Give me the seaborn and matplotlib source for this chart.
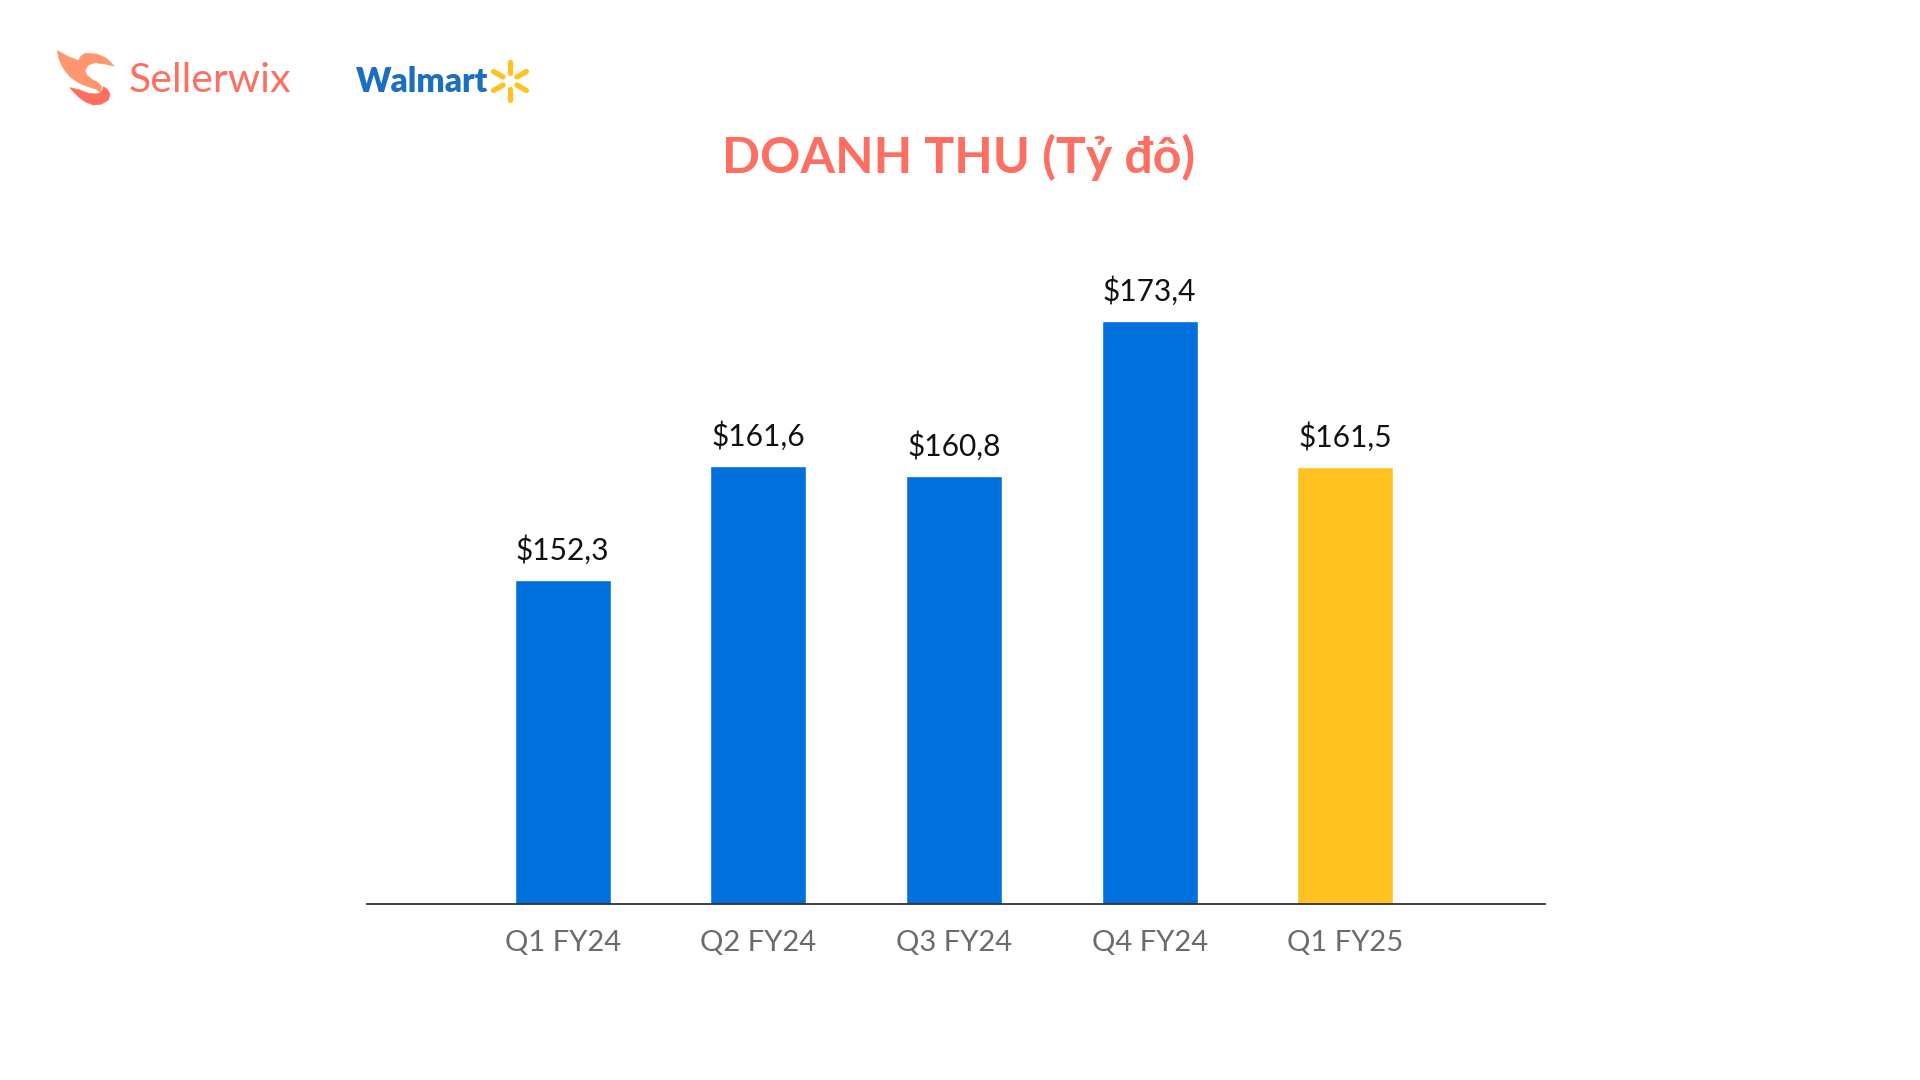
import math
import matplotlib
matplotlib.use("Agg")
import matplotlib.pyplot as plt
import seaborn as sns
import pandas as pd
from matplotlib.lines import Line2D
from matplotlib.patches import Polygon

# ---- data ----
categories = ["Q1 FY24", "Q2 FY24", "Q3 FY24", "Q4 FY24", "Q1 FY25"]
revenue = [152.3, 161.6, 160.8, 173.4, 161.5]
bar_colors = ["#0071DC", "#0071DC", "#0071DC", "#0071DC", "#FFC220"]
title_text = "DOANH THU (Tỷ đô)"

sns.set_theme(style="white")
plt.rcParams["font.family"] = ["Lato", "DejaVu Sans"]

W, H = 1920, 1080
fig = plt.figure(figsize=(W / 100, H / 100), dpi=100)
fig.patch.set_facecolor("white")

# axes placed in pixel geometry
left, right, bottom_px, top_px = 367, 1545, 904, 200
ax = fig.add_axes([left / W, 1 - bottom_px / H, (right - left) / W, (bottom_px - top_px) / H])

df = pd.DataFrame({"quarter": categories, "revenue": revenue})
sns.barplot(data=df, x="quarter", y="revenue", hue="quarter", palette=bar_colors,
            width=0.49, legend=False, ax=ax, saturation=1)

ax.set_xlim(-1.0, 5.02)
ax.set_ylim(125.9, 183.3)
ax.set_xlabel("")
ax.set_ylabel("")
ax.set_yticks([])
for s in ["top", "right", "left"]:
    ax.spines[s].set_visible(False)
ax.spines["bottom"].set_color("#333333")
ax.spines["bottom"].set_linewidth(1.3)
ax.tick_params(axis="x", length=0, pad=19, labelsize=21, labelcolor="#6b6b6b")
ax.set_facecolor("white")

for i, v in enumerate(revenue):
    ax.annotate(f"${v:.1f}".replace(".", ","), xy=(i, v), xytext=(0, 11),
                textcoords="offset points", ha="center", va="bottom",
                fontsize=21.5, color="#111111")

# title
fig.text(959 / W, 1 - 157 / H, title_text, ha="center", va="center",
         fontsize=36, fontweight="bold", color="#FF6F61",
         family=["Lato", "DejaVu Sans"])

# ---- logos (decorative) ----
fig.text(129 / W, 1 - 81 / H, "Sellerwix", ha="left", va="center",
         fontsize=29.5, color="#FF6F61")
fig.text(356 / W, 1 - 82 / H, "Walmart", ha="left", va="center",
         fontsize=24, fontweight="heavy", color="#1A6FC0")


def fpt(zx, zy):
    return ((50 + zx / 3) / W, 1 - (40 + zy / 3) / H)


upper = [(22, 32), (55, 50), (85, 62), (92, 50), (105, 40), (140, 42), (170, 55),
         (192, 78), (165, 72), (135, 68), (115, 75), (105, 90), (110, 105),
         (125, 118), (145, 128), (155, 140), (150, 158), (140, 148), (115, 140),
         (85, 128), (60, 110), (40, 85), (28, 60)]
lower = [(60, 143), (90, 150), (115, 160), (135, 162), (150, 160), (158, 150),
         (160, 140), (172, 148), (180, 162), (175, 180), (155, 192), (130, 195),
         (105, 185), (85, 170), (70, 155)]
for pts, col in [(upper, "#FF9670"), (lower, "#FF6F5E")]:
    fig.add_artist(Polygon([fpt(x, y) for x, y in pts], closed=True,
                           facecolor=col, edgecolor=col, linewidth=0.5,
                           joinstyle="round", transform=fig.transFigure))

# Walmart spark
cx, cy = 510, 81
for ang in [90, 30, -30, -90, 150, 210]:
    a = math.radians(ang)
    r0, r1 = 8, 19
    x0, y0 = cx + r0 * math.cos(a), cy - r0 * math.sin(a)
    x1, y1 = cx + r1 * math.cos(a), cy - r1 * math.sin(a)
    fig.add_artist(Line2D([x0 / W, x1 / W], [1 - y0 / H, 1 - y1 / H], color="#FFC220",
                          linewidth=3.8, solid_capstyle="round", transform=fig.transFigure))

fig.savefig("out.png", dpi=100, facecolor="white")
